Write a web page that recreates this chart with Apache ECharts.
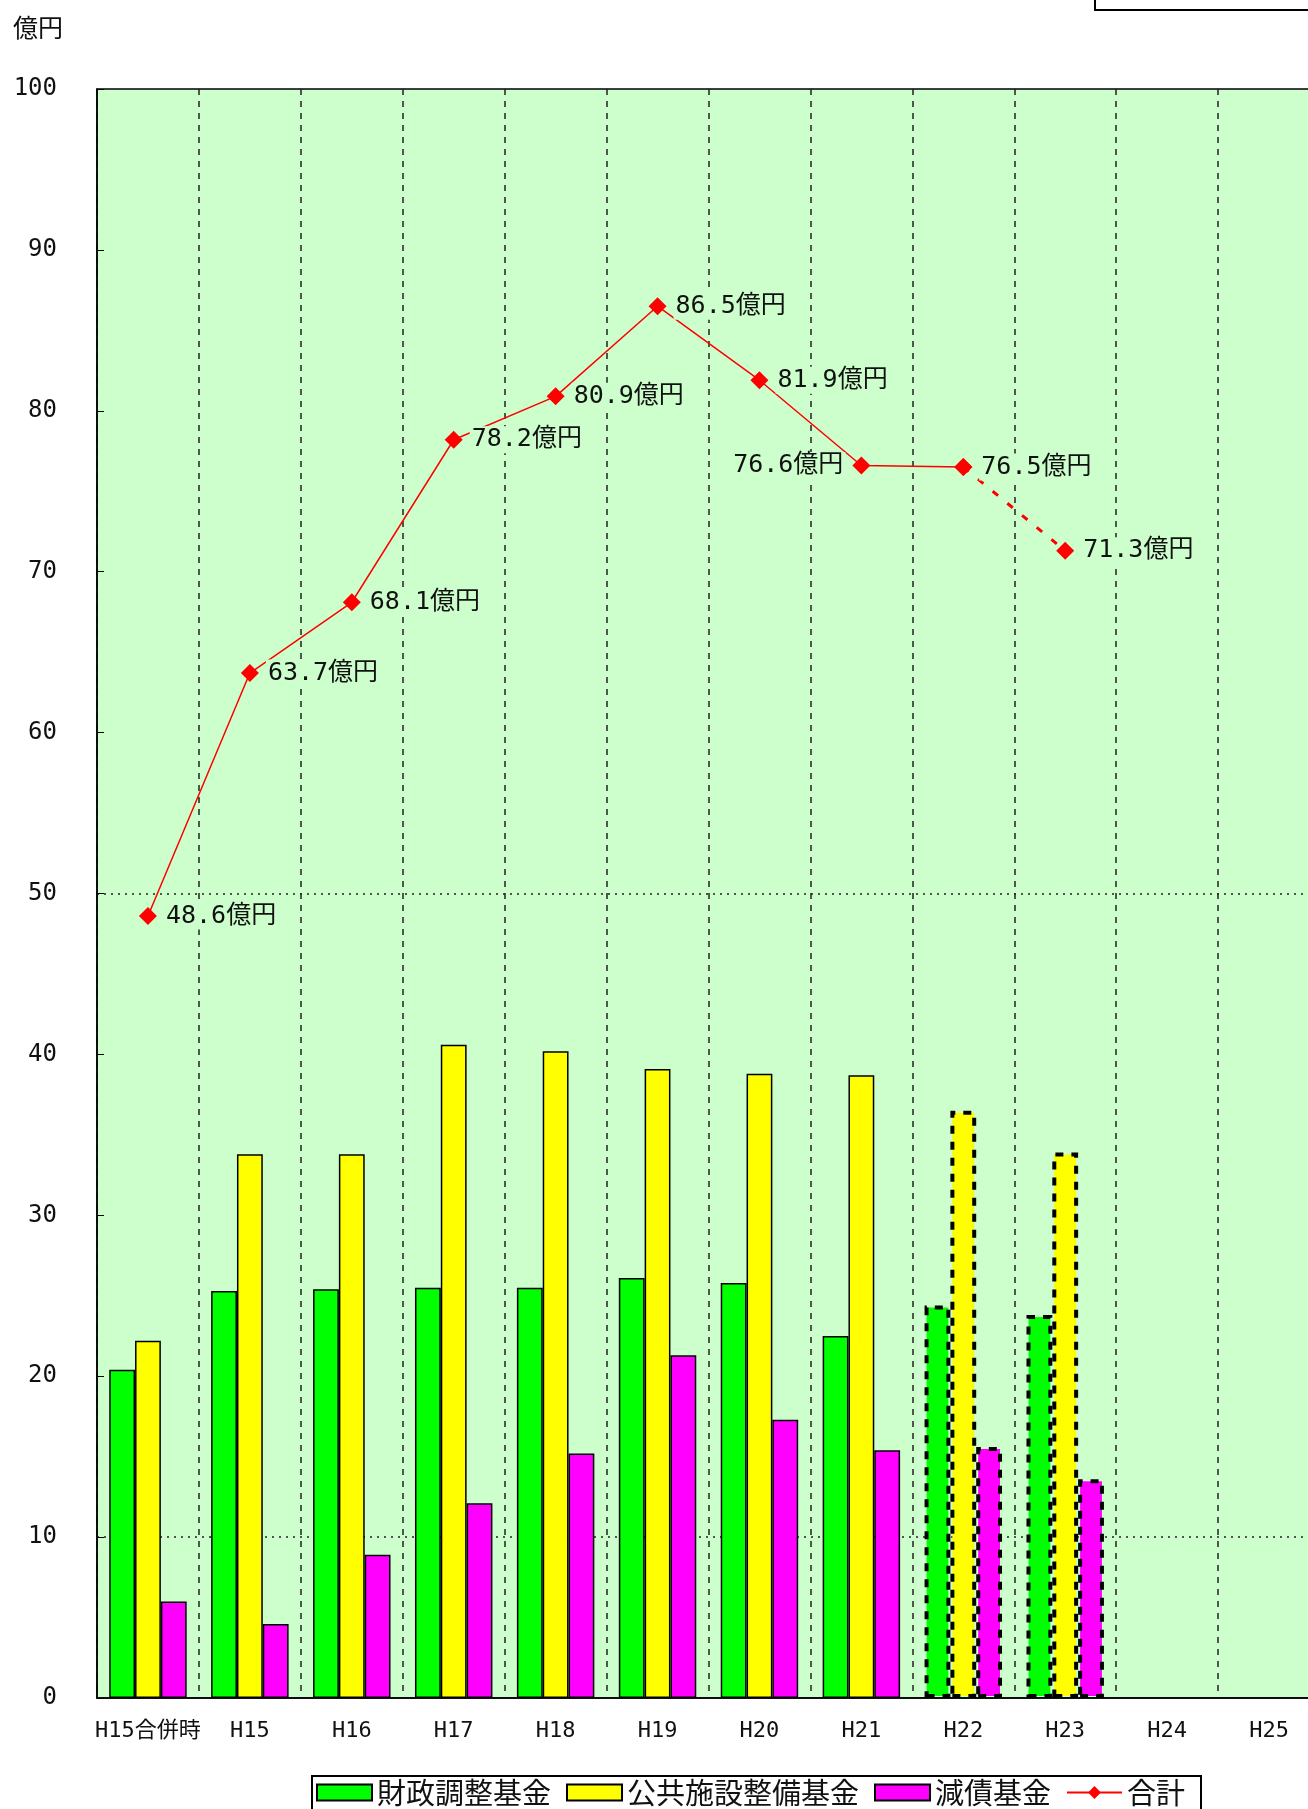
<!DOCTYPE html>
<html>
<head>
<meta charset="utf-8">
<script src="https://cdn.jsdelivr.net/npm/echarts@6/dist/echarts.min.js"></script>
<style>
html,body{margin:0;padding:0;background:#fff;}
#chart{width:1308px;height:1809px;}
</style>
</head>
<body>
<div id="chart"></div>
<script>
const categories = ['H15合併時','H15','H16','H17','H18','H19','H20','H21','H22','H23','H24','H25'];
const zaisei  = [20.4, 25.3, 25.4, 25.5, 25.5, 26.1, 25.8, 22.5, 24.4, 23.8, null, null];
const koukyou = [22.2, 33.8, 33.8, 40.6, 40.2, 39.1, 38.8, 38.7, 36.5, 33.9, null, null];
const gensai  = [6.0, 4.6, 8.9, 12.1, 15.2, 21.3, 17.3, 15.4, 15.6, 13.6, null, null];
const total   = [48.6, 63.7, 68.1, 78.2, 80.9, 86.5, 81.9, 76.6, 76.5, 71.3, null, null];
const seriesNames = ['財政調整基金', '公共施設整備基金', '減債基金', '合計'];
const estimateFrom = 8;       // H22 onward drawn as estimates
const leftLabelIndex = [7];   // total label placed left of marker
const yMin = 0, yMax = 100, yStep = 10;
const yGuideValues = [10, 50];

const MONO = "'DejaVu Sans Mono', 'Noto Sans CJK JP', monospace";
const CJK = "'Noto Sans CJK JP', sans-serif";
const BG = '#ccffcc';

function barData(arr) {
  return arr.map((v, i) => {
    if (v == null) return null;
    if (i >= estimateFrom) {
      return { value: v, itemStyle: { borderType: [8, 8], borderWidth: 4, borderColor: '#000' } };
    }
    return v;
  });
}

const guideColors = [];
for (let v = yMin; v <= yMax; v += yStep) {
  guideColors.push(yGuideValues.indexOf(v) >= 0 ? '#222' : 'rgba(0,0,0,0)');
}

const labelStyle = {
  show: true,
  formatter: p => (p.value == null ? '' : Number(p.value).toFixed(1) + '億円'),
  fontFamily: MONO,
  fontSize: 25,
  color: '#111',
  backgroundColor: BG,
  padding: [1, 2],
  distance: 7,
  position: 'right'
};

const solidTotal = total.map((v, i) => {
  if (i > estimateFrom || v == null) return null;
  const item = { value: v };
  if (leftLabelIndex.indexOf(i) >= 0) item.label = { position: 'left' };
  return item;
});
const dashTotal = total.map((v, i) => {
  if (i < estimateFrom || v == null) return null;
  const item = { value: v };
  if (i === estimateFrom) item.label = { show: false };
  return item;
});

const chart = echarts.init(document.getElementById('chart'), null, { renderer: 'canvas' });
chart.setOption({
  animation: false,
  backgroundColor: '#fff',
  grid: {
    left: 97, top: 89, width: 1223, bottom: 111,
    outerBoundsMode: 'none', containLabel: false,
    show: true, backgroundColor: BG, borderColor: '#000', borderWidth: 1.5
  },
  graphic: [
    { type: 'text', left: 13, top: 15, style: { text: '億円', font: "25px " + CJK, fill: '#111' } },
    { type: 'rect', shape: { x: 1095, y: -30, width: 260, height: 40 }, style: { fill: '#fff', stroke: '#000', lineWidth: 2 } }
  ],
  legend: {
    data: [
      { name: seriesNames[0], icon: 'rect' },
      { name: seriesNames[1], icon: 'rect' },
      { name: seriesNames[2], icon: 'rect' },
      { name: seriesNames[3] }
    ],
    left: 312, top: 1776,
    orient: 'horizontal',
    itemWidth: 55, itemHeight: 16, itemGap: 15,
    padding: [2, 16, 30, 4],
    borderColor: '#000', borderWidth: 2, backgroundColor: '#fff',
    textStyle: { fontFamily: CJK, fontSize: 29, color: '#111' }
  },
  xAxis: {
    type: 'category',
    data: categories,
    boundaryGap: true,
    axisLine: { lineStyle: { color: '#000', width: 1.5 } },
    axisTick: { show: false },
    axisLabel: { fontFamily: MONO, fontSize: 22, color: '#111', margin: 22, interval: 0 },
    splitLine: { show: true, interval: 0, lineStyle: { color: '#222', type: [6, 6], width: 1.5 } }
  },
  yAxis: {
    type: 'value',
    min: yMin, max: yMax, interval: yStep,
    axisLine: { show: true, lineStyle: { color: '#000', width: 1.5 } },
    axisTick: { show: true, inside: true, length: 7, lineStyle: { color: '#000' } },
    axisLabel: { fontFamily: MONO, fontSize: 24, color: '#111', margin: 40 },
    splitLine: { show: true, showMinLine: true, showMaxLine: true, lineStyle: { color: guideColors, type: [2, 5], width: 1.5 } }
  },
  series: [
    { name: seriesNames[0], type: 'bar', data: barData(zaisei), barGap: '0%', barCategoryGap: '24%',
      itemStyle: { color: '#00ff00', borderColor: '#000', borderWidth: 1.5 } },
    { name: seriesNames[1], type: 'bar', data: barData(koukyou), barGap: '0%', barCategoryGap: '24%',
      itemStyle: { color: '#ffff00', borderColor: '#000', borderWidth: 1.5 } },
    { name: seriesNames[2], type: 'bar', data: barData(gensai), barGap: '0%', barCategoryGap: '24%',
      itemStyle: { color: '#ff00ff', borderColor: '#000', borderWidth: 1.5 } },
    { name: seriesNames[3], type: 'line', data: solidTotal, z: 5,
      symbol: 'diamond', symbolSize: 18, connectNulls: false,
      lineStyle: { color: '#ff0000', width: 1.5 },
      itemStyle: { color: '#ff0000' },
      label: labelStyle },
    { name: seriesNames[3], type: 'line', data: dashTotal, z: 4,
      symbol: 'diamond', symbolSize: 18, connectNulls: false,
      lineStyle: { color: '#ff0000', width: 3, type: [7, 12] },
      itemStyle: { color: '#ff0000' },
      label: labelStyle }
  ]
});
</script>
</body>
</html>
